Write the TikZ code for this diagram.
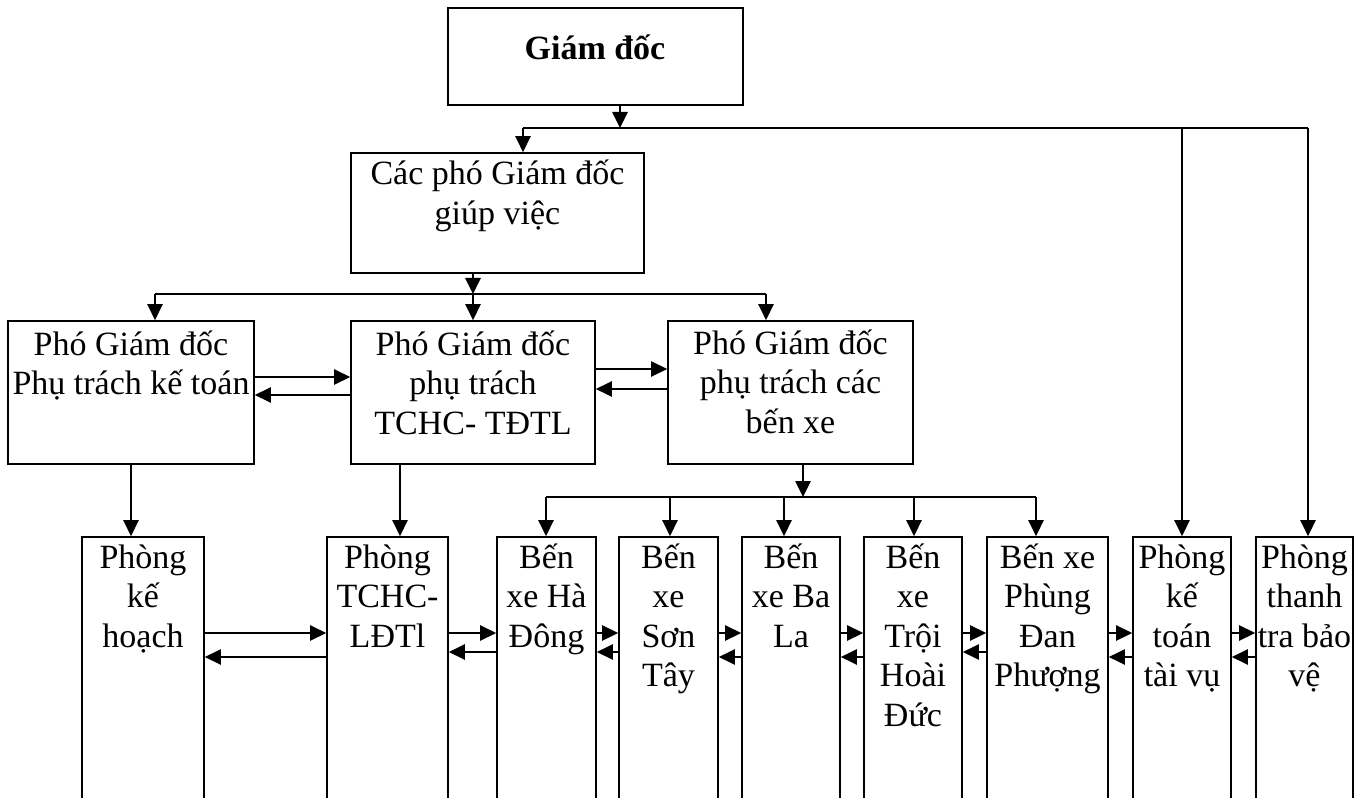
\documentclass[tikz,border=0pt]{standalone}
\usepackage{fontspec}
\setmainfont{Liberation Serif}
\usetikzlibrary{arrows.meta,fit}

% centred block of lines whose reference point is the first baseline
\newcommand\mlines[1]{\parbox[t]{300pt}{\centering #1}}

\tikzset{
  box/.style={draw, line width=1.3pt, rectangle, inner sep=0pt},
  lbl/.style={inner sep=0pt, anchor=base,
              font=\fontsize{25.5}{29.7}\selectfont},
  ln/.style={line width=1.2pt, line join=miter},
  arr/.style={ln, -{Triangle[length=12pt,width=11.5pt]}},
}

\begin{document}
\begin{tikzpicture}[x=0.75pt, y=-0.75pt]
\useasboundingbox (0,0) rectangle (1366,798);
\clip (0,0) rectangle (1366,798);

% ---- director and deputies ----
\node[box, fit={(448,8) (743,105)}] (gd) {};
\node[box, fit={(351,153) (644,273)}] (cp) {};
\node[box, fit={(8,321) (254,464)}] (pg1) {};
\node[box, fit={(351,321) (595,464)}] (pg2) {};
\node[box, fit={(668,321) (913,464)}] (pg3) {};

\node[lbl] (gd-t) at (595,60) {\mlines{\bfseries Giám đốc}};
\node[lbl] (cp-t) at (497.5,185) {\mlines{Các phó Giám đốc\\giúp việc}};
\node[lbl] (pg1-t) at (131,355) {\mlines{Phó Giám đốc\\Phụ trách kế toán}};
\node[lbl] (pg2-t) at (473,355) {\mlines{Phó Giám đốc\\phụ trách\\TCHC- TĐTL}};
\node[lbl] (pg3-t) at (790.5,354) {\mlines{Phó Giám đốc\\phụ trách các\\bến xe}};

% ---- departments and bus stations (open at the bottom) ----
\node[box, fit={(82,537) (204,830)}] (b1) {};
\node[box, fit={(327,537) (448,830)}] (b2) {};
\node[box, fit={(497,537) (596,830)}] (b3) {};
\node[box, fit={(619,537) (718,830)}] (b4) {};
\node[box, fit={(742,537) (840,830)}] (b5) {};
\node[box, fit={(864,537) (962,830)}] (b6) {};
\node[box, fit={(987,537) (1108,830)}] (b7) {};
\node[box, fit={(1133,537) (1231,830)}] (b8) {};
\node[box, fit={(1256,537) (1353,830)}] (b9) {};

\node[lbl] (b1-t) at (143,568) {\mlines{Phòng\\kế\\hoạch}};
\node[lbl] (b2-t) at (387.5,568) {\mlines{Phòng\\TCHC-\\LĐTl}};
\node[lbl] (b3-t) at (546.5,568) {\mlines{Bến\\xe Hà\\Đông}};
\node[lbl] (b4-t) at (668.5,568) {\mlines{Bến\\xe\\Sơn\\Tây}};
\node[lbl] (b5-t) at (791,568) {\mlines{Bến\\xe Ba\\La}};
\node[lbl] (b6-t) at (913,568) {\mlines{Bến\\xe\\Trội\\Hoài\\Đức}};
\node[lbl] (b7-t) at (1047.5,568) {\mlines{Bến xe\\Phùng\\Đan\\Phượng}};
\node[lbl] (b8-t) at (1182,568) {\mlines{Phòng\\kế\\toán\\tài vụ}};
\node[lbl] (b9-t) at (1304.5,568) {\mlines{Phòng\\thanh\\tra bảo\\vệ}};

% ---- junction points ----
\coordinate (j0) at (620,128);
\coordinate (j1) at (523,128);
\coordinate (j2) at (1182,128);
\coordinate (j3) at (1308,128);
\coordinate (k0) at (473,294);
\coordinate (k1) at (155,294);
\coordinate (k2) at (473,294);
\coordinate (k3) at (766,294);
\coordinate (d2) at (400,500);
\coordinate (m0) at (803,497);
\coordinate (m1) at (546,497);
\coordinate (m2) at (670,497);
\coordinate (m3) at (784,497);
\coordinate (m4) at (914,497);
\coordinate (m5) at (1036,497);

% row levels of the side-by-side arrows
\coordinate (ua) at (0,377);
\coordinate (ub) at (0,395);
\coordinate (uc) at (0,369);
\coordinate (ud) at (0,389);
\coordinate (lr) at (0,633);
\coordinate (la) at (0,652);
\coordinate (lb) at (0,657);

% ---- top level distribution ----
\draw[arr] (gd.south -| j0) -- (j0);
\draw[ln] (j1) -- (j3);
\draw[arr] (j1) -- (j1 |- cp.north);
\draw[arr] (j2) -- (j2 |- b8.north);
\draw[arr] (j3) -- (j3 |- b9.north);

% ---- deputies ----
\draw[arr] (cp.south -| k0) -- (k0);
\draw[ln] (k1) -- (k3);
\draw[arr] (k1) -- (k1 |- pg1.north);
\draw[arr] (k2) -- (k2 |- pg2.north);
\draw[arr] (k3) -- (k3 |- pg3.north);

\draw[arr] (pg1.east |- ua) -- (pg2.west |- ua);
\draw[arr] (pg2.west |- ub) -- (pg1.east |- ub);
\draw[arr] (pg2.east |- uc) -- (pg3.west |- uc);
\draw[arr] (pg3.west |- ud) -- (pg2.east |- ud);

% ---- down to departments ----
\draw[arr] (pg1.south) -- (pg1.south |- b1.north);
\draw[arr] (pg2.south -| d2) -- (d2 |- b2.north);

% ---- bus stations ----
\draw[arr] (pg3.south -| m0) -- (m0);
\draw[ln] (m1) -- (m5);
\draw[arr] (m1) -- (m1 |- b3.north);
\draw[arr] (m2) -- (m2 |- b4.north);
\draw[arr] (m3) -- (m3 |- b5.north);
\draw[arr] (m4) -- (m4 |- b6.north);
\draw[arr] (m5) -- (m5 |- b7.north);

% ---- links between neighbouring units ----
\draw[arr] (b1.east |- lr) -- (b2.west |- lr);
\draw[arr] (b2.west |- lb) -- (b1.east |- lb);
\draw[arr] (b2.east |- lr) -- (b3.west |- lr);
\draw[arr] (b3.west |- la) -- (b2.east |- la);
\draw[arr] (b3.east |- lr) -- (b4.west |- lr);
\draw[arr] (b4.west |- la) -- (b3.east |- la);
\draw[arr] (b4.east |- lr) -- (b5.west |- lr);
\draw[arr] (b5.west |- lb) -- (b4.east |- lb);
\draw[arr] (b5.east |- lr) -- (b6.west |- lr);
\draw[arr] (b6.west |- lb) -- (b5.east |- lb);
\draw[arr] (b6.east |- lr) -- (b7.west |- lr);
\draw[arr] (b7.west |- la) -- (b6.east |- la);
\draw[arr] (b7.east |- lr) -- (b8.west |- lr);
\draw[arr] (b8.west |- lb) -- (b7.east |- lb);
\draw[arr] (b8.east |- lr) -- (b9.west |- lr);
\draw[arr] (b9.west |- lb) -- (b8.east |- lb);
\end{tikzpicture}
\end{document}
